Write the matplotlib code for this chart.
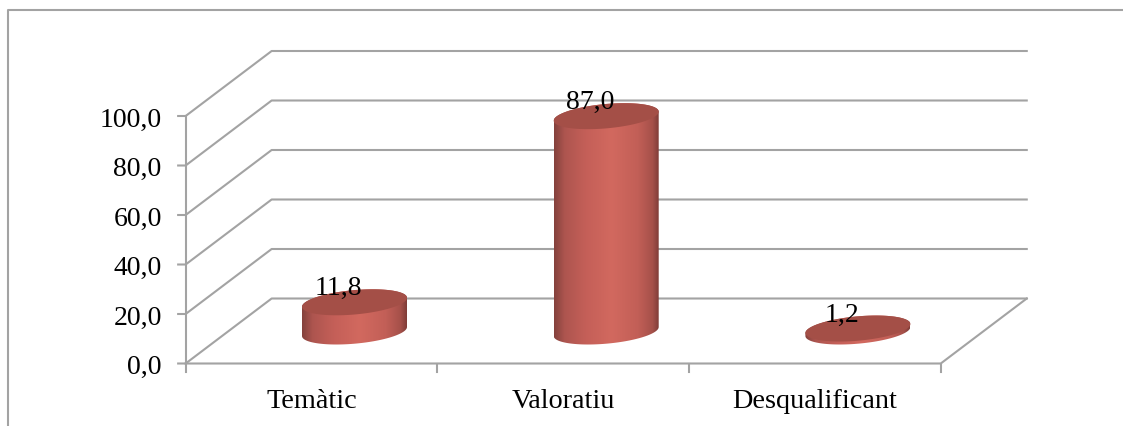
#!/usr/bin/env python3
"""3D-look cylinder chart, drawn on a flat axes (category units / value units)."""
import numpy as np
import matplotlib
matplotlib.use("Agg")
import matplotlib.pyplot as plt
from matplotlib.colors import LinearSegmentedColormap
from matplotlib.patches import Polygon

categories = ["Temàtic", "Valoratiu", "Desqualificant"]
values = [11.8, 87.0, 1.2]
value_labels = ["11,8", "87,0", "1,2"]
y_ticks = [0, 20, 40, 60, 80, 100]
y_tick_labels = ["0,0", "20,0", "40,0", "60,0", "80,0", "100,0"]

W, H = 1123, 427
GRID = "#a3a3a3"
FONT = "Liberation Serif"

# pixel scale of the axes
PX_CAT = 251.7      # px per category
PX_VAL = 2.475      # px per value unit
X0_PX = 311.5       # px of the first category slot centre, front plane
Y0_PX = 364.5       # px of value 0, front plane

# depth of the box, in axis units
DX = 86 / PX_CAT
DY = 65 / PX_VAL

# cylinders sit part way back on the floor
CYL_DX = 43 / PX_CAT
CYL_DY = 32 / PX_VAL
RX = 52.5 / PX_CAT
RY = 12.2 / PX_VAL
SHEAR = 4.5 / PX_VAL

fig = plt.figure(figsize=(W / 100, H / 100), dpi=100)
ax = fig.add_axes([0, 0, 1, 1])
ax.axis("off")
xlim = (-X0_PX / PX_CAT, (W - X0_PX) / PX_CAT)
ylim = ((Y0_PX - H) / PX_VAL, Y0_PX / PX_VAL)

left, right = -0.5, len(categories) - 0.5
lw = 1.5

# outer chart frame
fx = xlim[0] + 8 / PX_CAT
fy = ylim[1] - 11 / PX_VAL
ax.plot([fx, fx, xlim[1]], [ylim[0], fy, fy], color=GRID, lw=lw, zorder=1)

# walls and gridlines
for v in y_ticks:
    ax.plot([left - 7.5 / PX_CAT, left, left + DX, right + DX],
            [v, v, v + DY, v + DY], color=GRID, lw=lw, zorder=1)
ax.plot([left, left], [0, max(y_ticks)], color=GRID, lw=lw, zorder=1)
ax.plot([left, right, right + DX], [0, 0, DY], color=GRID, lw=lw, zorder=1)
for i in range(len(categories) + 1):
    ax.plot([left + i, left + i], [0, -8.5 / PX_VAL], color=GRID, lw=lw, zorder=1)

for v, lab in zip(y_ticks, y_tick_labels):
    ax.text(left - 24 / PX_CAT, v, lab, family=FONT, fontsize=20, ha="right",
            va="center_baseline", color="black", zorder=5)
for i, lab in enumerate(categories):
    ax.text(i, -44 / PX_VAL, lab, family=FONT, fontsize=20.3, ha="center",
            va="baseline", color="black", zorder=5)

shade = LinearSegmentedColormap.from_list(
    "cyl", [(0, "#84413c"), (0.1, "#ad554f"), (0.3, "#c45f58"), (0.55, "#d2695f"),
            (0.8, "#c25f57"), (0.94, "#a6514a"), (1, "#7f3c38")])
grad = np.linspace(0, 1, 256)[None, :]


def ellipse(cx, cy, t):
    return np.column_stack([cx + RX * np.cos(t), cy + SHEAR * np.cos(t) + RY * np.sin(t)])


for i, v in enumerate(values):
    cx = i + CYL_DX
    base = CYL_DY
    top = base + v
    # side of the cylinder: lower arc of the base, upper arc of the top
    lower = ellipse(cx, base, np.linspace(np.pi, 2 * np.pi, 80))
    upper = ellipse(cx, top, np.linspace(0, np.pi, 80))
    body = Polygon(np.vstack([lower, upper]), closed=True, transform=ax.transData,
                   fc="none", ec="none")
    ax.add_patch(body)
    im = ax.imshow(grad, cmap=shade, aspect="auto", zorder=2, interpolation="bilinear",
                   extent=[cx - RX, cx + RX, base - 2 * RY, top + 2 * RY])
    im.set_clip_path(body)
    ax.add_patch(Polygon(ellipse(cx, top, np.linspace(0, 2 * np.pi, 160)), closed=True,
                         fc="#a44f47", ec="none", zorder=3))
    ax.text(i + 27 / PX_CAT, top + 8 / PX_VAL, value_labels[i], family=FONT,
            fontsize=20, ha="center", va="baseline", color="black", zorder=5)

ax.set_xlim(*xlim)
ax.set_ylim(*ylim)
fig.savefig("out.png", dpi=100, facecolor="white")
